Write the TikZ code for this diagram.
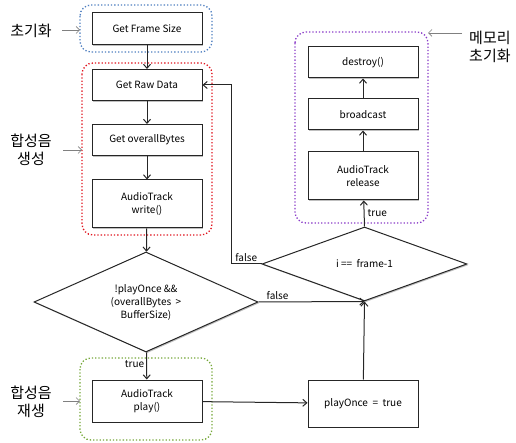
\documentclass[tikz,border=0pt]{standalone}
\usepackage{fontspec}
\setmainfont{Noto Sans CJK KR}
\usetikzlibrary{arrows.meta,shapes.geometric,shadows}
\definecolor{grpblue}{HTML}{4F7FC0}
\definecolor{grpred}{HTML}{E0141E}
\definecolor{grpgreen}{HTML}{76A83A}
\definecolor{grppurple}{HTML}{8A3CC8}
\tikzset{
  stepbox/.style={draw=black!85, line width=1pt, fill=white, minimum width=110pt,
    align=center, font=\fontsize{10}{13}\selectfont,
    drop shadow={shadow xshift=1.2pt, shadow yshift=-1.2pt, opacity=0.25, fill=black}},
  decision/.style={draw=black!85, line width=1pt, fill=white, diamond, aspect=2.24,
    inner sep=0pt, align=center, font=\fontsize{10}{13}\selectfont,
    drop shadow={shadow xshift=1.2pt, shadow yshift=-1.2pt, opacity=0.25, fill=black}},
  group/.style={line width=1.3pt, dotted, rounded corners=11pt},
  flow/.style={line width=1pt, draw=black!85, -{Straight Barb[length=4pt,width=7pt]}},
  note/.style={align=center, font=\fontsize{15}{18}\selectfont},
  pointer/.style={draw=black!50, line width=0.7pt, -{Straight Barb[length=3.5pt,width=7pt]}},
  tag/.style={font=\fontsize{10}{12}\selectfont, inner sep=1pt}
}
\begin{document}
\begin{tikzpicture}[x=1pt,y=-1pt]
\useasboundingbox (0,0) rectangle (516,443);

% dotted group frames
\draw[group, draw=grpblue] (80,5) rectangle (212,52);
\draw[group, draw=grpred] (82,63) rectangle (212,235);
\draw[group, draw=grpgreen] (80,358) rectangle (212,440);
\draw[group, draw=grppurple] (295,32) rectangle (428,223);

% left column
\node[stepbox, minimum height=32pt] (size) at (147,29) {Get Frame Size};
\node[stepbox, minimum height=31pt] (raw) at (147,85) {Get Raw Data};
\node[stepbox, minimum height=31pt] (bytes) at (147,140) {Get overallBytes};
\node[stepbox, minimum height=48pt] (write) at (147,204) {AudioTrack\\write()};
\node[decision, minimum width=224pt, minimum height=100pt] (once) at (146,302)
  {!playOnce \&\&\\(overallBytes \ >\\BufferSize)};
\node[stepbox, minimum height=42pt] (play) at (147,401) {AudioTrack\\play()};

% right column
\node[stepbox, minimum height=31pt] (destroy) at (363,62.5) {destroy()};
\node[stepbox, minimum height=31pt] (bcast) at (363,114.5) {broadcast};
\node[stepbox, minimum height=48pt] (release) at (363,176) {AudioTrack\\release};
\node[decision, minimum width=205pt, minimum height=74pt] (last) at (364.5,264) {i == \ frame-1};
\node[stepbox, minimum height=47pt] (setonce) at (363,403.5) {playOnce \ = \ true};

% main flow
\draw[flow] (size) -- (raw);
\draw[flow] (raw) -- (bytes);
\draw[flow] (bytes) -- (write);
\draw[flow] (write) -- (once);
\draw[flow] (once) -- node[tag, pos=0.45, left=1pt] {true} (play);
\draw[flow] (play) -- (setonce);
\draw[flow] (setonce) -- (last.south);
\coordinate (join) at (last.south);
\draw[flow] (once.east) -- node[tag, above=1pt, pos=0.18] {false} (join);
\coordinate (bendlow) at (231,264);
\coordinate (bendhigh) at (231,85);
\draw[flow] (last.west) -- node[tag, above=1pt, pos=0.5] {false} (bendlow) -- (bendhigh) -- (raw.east);
\draw[flow] (last.north) -- node[tag, right=2pt, pos=0.5] {true} (release);
\draw[flow] (release) -- (bcast);
\draw[flow] (bcast) -- (destroy);

% side notes
\node[note] (n1) at (31,31) {초기화};
\node[note] (n2) at (31,150) {합성음\\생성};
\node[note] (n3) at (31,402) {합성음\\재생};
\node[note, anchor=west, inner sep=0pt] (n4) at (469,47) {메모리\\초기화};
\coordinate (p1) at (80,30);
\coordinate (p2) at (82,150);
\coordinate (p3) at (80,401);
\coordinate (p4) at (428,33);
\draw[pointer] (62,30) -- (p1);
\draw[pointer] (63,150) -- (p2);
\draw[pointer] (63,401) -- (p3);
\draw[pointer] (462,33) -- (p4);
\end{tikzpicture}
\end{document}
